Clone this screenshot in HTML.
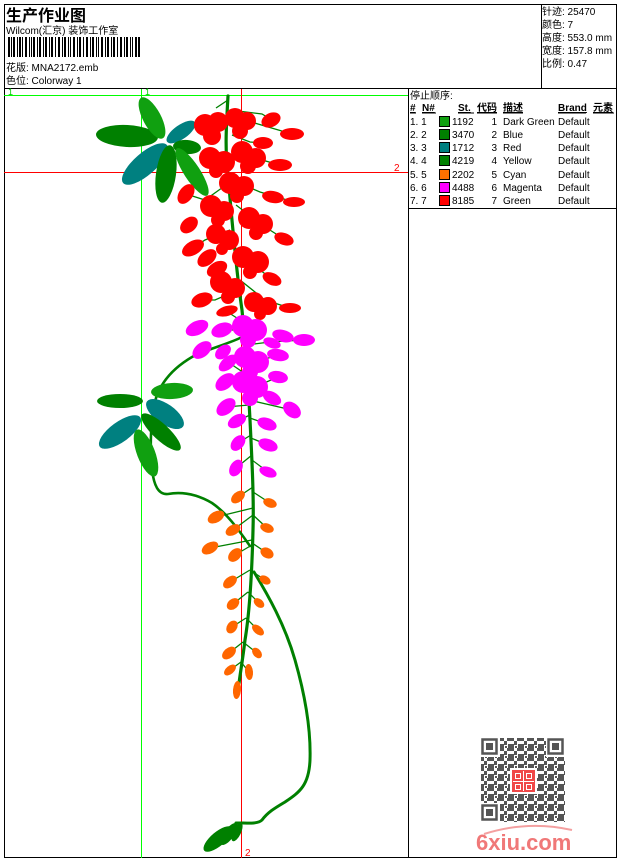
<!DOCTYPE html>
<html><head><meta charset="utf-8">
<style>
html,body{margin:0;padding:0;background:#fff;}
body{width:620px;height:860px;overflow:hidden;}
svg{display:block;}
text{font-family:"Liberation Sans","Noto Sans CJK SC",sans-serif;fill:#000;}
</style></head>
<body>
<svg width="620" height="860" viewBox="0 0 620 860" xmlns="http://www.w3.org/2000/svg">
<defs>
<pattern id="qr" x="481" y="738" width="10" height="10" patternUnits="userSpaceOnUse">
<rect x="0" y="0" width="3" height="3" fill="#555"/>
<rect x="3" y="3" width="3" height="4" fill="#555"/>
<rect x="6" y="0" width="4" height="3" fill="#555"/>
<rect x="0" y="6" width="3" height="4" fill="#555"/>
<rect x="7" y="6" width="3" height="4" fill="#555"/>
<rect x="4" y="8" width="2" height="2" fill="#555"/>
</pattern>
</defs>
<rect width="620" height="860" fill="#fff"/>

<!-- frame lines -->
<g stroke="#000" stroke-width="1" shape-rendering="crispEdges" fill="none">
<rect x="4.5" y="4.5" width="612" height="853"/>
<line x1="4" y1="88.5" x2="617" y2="88.5"/>
<line x1="541.5" y1="4" x2="541.5" y2="88"/>
<line x1="408.5" y1="88" x2="408.5" y2="858"/>
<line x1="408" y1="208.5" x2="617" y2="208.5"/>
</g>

<!-- header -->
<text x="6" y="21" font-size="16" font-weight="bold">生产作业图</text>
<text x="6" y="34" font-size="10">Wilcom(汇京) 装饰工作室</text>
<g fill="#000" shape-rendering="crispEdges">
<rect x="8" y="37" width="2" height="20"/><rect x="11" y="37" width="1" height="20"/><rect x="13" y="37" width="2" height="20"/>
<rect x="17" y="37" width="1" height="20"/><rect x="19" y="37" width="2" height="20"/><rect x="22" y="37" width="1" height="20"/>
<rect x="25" y="37" width="2" height="20"/><rect x="29" y="37" width="1" height="20"/><rect x="31" y="37" width="1" height="20"/>
<rect x="33" y="37" width="2" height="20"/><rect x="37" y="37" width="1" height="20"/><rect x="39" y="37" width="2" height="20"/>
<rect x="43" y="37" width="1" height="20"/><rect x="45" y="37" width="2" height="20"/><rect x="49" y="37" width="1" height="20"/>
<rect x="51" y="37" width="2" height="20"/><rect x="55" y="37" width="1" height="20"/><rect x="58" y="37" width="2" height="20"/>
<rect x="62" y="37" width="1" height="20"/><rect x="64" y="37" width="2" height="20"/><rect x="68" y="37" width="1" height="20"/>
<rect x="70" y="37" width="1" height="20"/><rect x="73" y="37" width="2" height="20"/><rect x="77" y="37" width="1" height="20"/>
<rect x="79" y="37" width="2" height="20"/><rect x="83" y="37" width="1" height="20"/><rect x="86" y="37" width="2" height="20"/>
<rect x="90" y="37" width="1" height="20"/><rect x="92" y="37" width="2" height="20"/><rect x="96" y="37" width="1" height="20"/>
<rect x="98" y="37" width="1" height="20"/><rect x="101" y="37" width="2" height="20"/><rect x="105" y="37" width="1" height="20"/>
<rect x="107" y="37" width="2" height="20"/><rect x="111" y="37" width="1" height="20"/><rect x="113" y="37" width="2" height="20"/>
<rect x="117" y="37" width="1" height="20"/><rect x="120" y="37" width="2" height="20"/><rect x="124" y="37" width="1" height="20"/>
<rect x="126" y="37" width="2" height="20"/><rect x="130" y="37" width="1" height="20"/><rect x="132" y="37" width="1" height="20"/>
<rect x="135" y="37" width="2" height="20"/><rect x="138" y="37" width="2" height="20"/>
</g>
<text x="6" y="71" font-size="10">花版: MNA2172.emb</text>
<text x="6" y="84" font-size="10">色位: Colorway 1</text>

<text x="542" y="15" font-size="10">针迹: 25470</text>
<text x="542" y="28" font-size="10">颜色: 7</text>
<text x="542" y="41" font-size="10">高度: 553.0 mm</text>
<text x="542" y="54" font-size="10">宽度: 157.8 mm</text>
<text x="542" y="67" font-size="10">比例: 0.47</text>

<!-- legend -->
<text x="410" y="99" font-size="10">停止顺序:</text>
<g font-size="10" font-weight="bold" text-decoration="underline">
<text x="410" y="111">#</text>
<text x="422" y="111">N#</text>
<text x="458" y="111">St.</text>
<text x="477" y="111">代码</text>
<text x="503" y="111">描述</text>
<text x="558" y="111">Brand</text>
<text x="593" y="111">元素</text>
</g>
<g stroke="#000" stroke-width="0.8" shape-rendering="crispEdges">
<line x1="410" y1="113" x2="416" y2="113"/><line x1="422" y1="113" x2="436" y2="113"/>
<line x1="458" y1="113" x2="474" y2="113"/><line x1="477" y1="113" x2="497" y2="113"/>
<line x1="503" y1="113" x2="523" y2="113"/><line x1="558" y1="113" x2="586" y2="113"/>
<line x1="593" y1="113" x2="614" y2="113"/>
</g>
<g font-size="10">
<text x="410" y="125">1. 1</text><rect x="439.5" y="116.5" width="10" height="10" fill="#10a010" stroke="#000"/><text x="452" y="125">1192</text><text x="497" y="125" text-anchor="end">1</text><text x="503" y="125">Dark Green</text><text x="558" y="125">Default</text>
<text x="410" y="138">2. 2</text><rect x="439.5" y="129.5" width="10" height="10" fill="#008000" stroke="#000"/><text x="452" y="138">3470</text><text x="497" y="138" text-anchor="end">2</text><text x="503" y="138">Blue</text><text x="558" y="138">Default</text>
<text x="410" y="151">3. 3</text><rect x="439.5" y="142.5" width="10" height="10" fill="#008080" stroke="#000"/><text x="452" y="151">1712</text><text x="497" y="151" text-anchor="end">3</text><text x="503" y="151">Red</text><text x="558" y="151">Default</text>
<text x="410" y="164">4. 4</text><rect x="439.5" y="155.5" width="10" height="10" fill="#008000" stroke="#000"/><text x="452" y="164">4219</text><text x="497" y="164" text-anchor="end">4</text><text x="503" y="164">Yellow</text><text x="558" y="164">Default</text>
<text x="410" y="178">5. 5</text><rect x="439.5" y="169.5" width="10" height="10" fill="#ff7000" stroke="#000"/><text x="452" y="178">2202</text><text x="497" y="178" text-anchor="end">5</text><text x="503" y="178">Cyan</text><text x="558" y="178">Default</text>
<text x="410" y="191">6. 6</text><rect x="439.5" y="182.5" width="10" height="10" fill="#ff00ff" stroke="#000"/><text x="452" y="191">4488</text><text x="497" y="191" text-anchor="end">6</text><text x="503" y="191">Magenta</text><text x="558" y="191">Default</text>
<text x="410" y="204">7. 7</text><rect x="439.5" y="195.5" width="10" height="10" fill="#ff0000" stroke="#000"/><text x="452" y="204">8185</text><text x="497" y="204" text-anchor="end">7</text><text x="503" y="204">Green</text><text x="558" y="204">Default</text>
</g>

<!-- guide lines -->
<g shape-rendering="crispEdges" stroke-width="1">
<line x1="4" y1="95.5" x2="408" y2="95.5" stroke="#00ff00"/>
<line x1="141.5" y1="89" x2="141.5" y2="858" stroke="#00ff00"/>
<line x1="4" y1="172.5" x2="408" y2="172.5" stroke="#ff0000"/>
<line x1="241.5" y1="89" x2="241.5" y2="858" stroke="#ff0000"/>
</g>
<text x="8" y="95" font-size="9" style="fill:#00cc00">1</text>
<text x="145" y="95" font-size="9" style="fill:#00cc00">1</text>
<text x="394" y="171" font-size="10" style="fill:#ff0000">2</text>
<text x="245" y="856" font-size="10" style="fill:#ff0000">2</text>

<!-- stems -->
<g fill="none" stroke="#008000" stroke-linecap="round">
<path d="M228,96 C226,130 225,150 228,175 C231,210 236,270 242,310 C245,340 248,380 250,420 C252,460 254,500 253,530 C252,570 250,610 245,640 C242,665 239,680 238,692" stroke-width="3.2"/>
<path d="M240,338 C225,345 205,350 192,357 C175,367 162,380 156,398 C150,420 150,450 152,470 C154,485 158,495 168,494 C185,491 200,496 212,503 C228,514 240,532 250,546" stroke-width="2.6"/>
<path d="M254,572 C268,595 285,625 295,660 C305,695 311,730 310,760 C309,785 300,792 285,802 C275,808 268,812 262,820 C258,824 250,823 236,823" stroke-width="3"/>
</g>
<g fill="none" stroke="#008000" stroke-width="1.3">
<path d="M228,100 L216,108"/>
<path d="M230,110 L262,114 L272,120"/>
<path d="M238,118 L258,124 L292,134"/>
<path d="M232,135 L250,142 L263,143"/>
<path d="M240,150 L262,160 L280,165"/>
<path d="M232,180 L260,192 L294,202"/>
<path d="M236,205 L262,225 L284,239"/>
<path d="M238,250 L260,270 L272,279"/>
<path d="M240,280 L265,300 L290,308"/>
<path d="M226,185 L205,200 L186,194"/>
<path d="M230,230 L205,240 L193,248"/>
<path d="M238,290 L215,300 L202,300"/>
<path d="M240,320 L226,311"/>
<path d="M244,330 L222,330"/>
<path d="M246,345 L270,342 L303,340"/>
<path d="M246,365 L278,355"/>
<path d="M247,375 L228,362"/>
<path d="M247,385 L225,382"/>
<path d="M248,390 L278,377"/>
<path d="M249,400 L292,410"/>
<path d="M249,405 L226,407"/>
<path d="M250,415 L237,421"/>
<path d="M250,418 L267,424"/>
<path d="M251,435 L238,443"/>
<path d="M251,438 L268,445"/>
<path d="M252,455 L236,468"/>
<path d="M252,460 L268,472"/>
<path d="M253,487 L238,497"/>
<path d="M253,492 L270,503"/>
<path d="M253,508 L216,517"/>
<path d="M253,515 L233,530"/>
<path d="M253,515 L267,528"/>
<path d="M252,540 L210,548"/>
<path d="M252,545 L235,555"/>
<path d="M252,543 L267,553"/>
<path d="M250,570 L230,582"/>
<path d="M250,570 L265,580"/>
<path d="M248,592 L233,604"/>
<path d="M248,592 L259,603"/>
<path d="M246,618 L232,627"/>
<path d="M246,618 L258,630"/>
<path d="M243,642 L229,653"/>
<path d="M243,642 L257,653"/>
<path d="M241,662 L230,670"/>
<path d="M241,662 L249,672"/>
</g>

<!-- upper leaves -->
<g>
<ellipse cx="127" cy="136" rx="31" ry="11" transform="rotate(3 127 136)" fill="#008000"/>
<ellipse cx="152" cy="118" rx="23" ry="9" transform="rotate(62 152 118)" fill="#10a010"/>
<ellipse cx="181" cy="132" rx="17" ry="7" transform="rotate(-35 181 132)" fill="#008080"/>
<ellipse cx="187" cy="147" rx="14" ry="7" transform="rotate(5 187 147)" fill="#008000"/>
<ellipse cx="145" cy="164" rx="29" ry="11" transform="rotate(139 145 164)" fill="#008080"/>
<ellipse cx="166" cy="174" rx="29" ry="10" transform="rotate(98 166 174)" fill="#008000"/>
<ellipse cx="192" cy="172" rx="28" ry="8" transform="rotate(57 192 172)" fill="#10a010"/>
</g>
<!-- middle leaves -->
<g>
<ellipse cx="172" cy="391" rx="21" ry="8" transform="rotate(-3 172 391)" fill="#10a010"/>
<ellipse cx="120" cy="401" rx="23" ry="7" fill="#008000"/>
<ellipse cx="165" cy="414" rx="22" ry="10" transform="rotate(35 165 414)" fill="#008080"/>
<ellipse cx="120" cy="432" rx="25" ry="10" transform="rotate(-36 120 432)" fill="#008080"/>
<ellipse cx="161" cy="432" rx="26" ry="8" transform="rotate(43 161 432)" fill="#008000"/>
<ellipse cx="146" cy="453" rx="25" ry="9" transform="rotate(69 146 453)" fill="#10a010"/>
</g>
<!-- bottom leaves -->
<g fill="#008000">
<ellipse cx="218" cy="839" rx="18" ry="7" transform="rotate(-40 218 839)"/>
<ellipse cx="229" cy="834" rx="13" ry="5" transform="rotate(-55 229 834)"/>
<ellipse cx="237" cy="832" rx="10" ry="4" transform="rotate(-65 237 832)"/>
</g>

<!-- red flowers -->
<g fill="#ff0000">
<circle cx="205" cy="125" r="11"/><circle cx="218" cy="122" r="10"/><circle cx="212" cy="136" r="9"/>
<circle cx="235" cy="118" r="10"/><circle cx="247" cy="121" r="9"/><circle cx="240" cy="131" r="8"/>
<circle cx="210" cy="158" r="11"/><circle cx="224" cy="162" r="11"/><circle cx="216" cy="171" r="7"/>
<circle cx="242" cy="152" r="11"/><circle cx="256" cy="158" r="10"/><circle cx="248" cy="166" r="8"/>
<circle cx="230" cy="183" r="11"/><circle cx="244" cy="186" r="10"/><circle cx="237" cy="196" r="7"/>
<circle cx="211" cy="206" r="11"/><circle cx="224" cy="211" r="10"/><circle cx="218" cy="220" r="7"/>
<circle cx="249" cy="218" r="11"/><circle cx="263" cy="224" r="10"/><circle cx="256" cy="233" r="7"/>
<circle cx="216" cy="234" r="10"/><circle cx="229" cy="240" r="10"/><circle cx="222" cy="249" r="6"/>
<circle cx="243" cy="257" r="11"/><circle cx="258" cy="262" r="11"/><circle cx="250" cy="272" r="7"/>
<circle cx="221" cy="282" r="11"/><circle cx="235" cy="288" r="10"/><circle cx="228" cy="297" r="7"/>
<circle cx="254" cy="302" r="10"/><circle cx="268" cy="306" r="9"/><circle cx="260" cy="314" r="6"/>
<ellipse cx="271" cy="120" rx="10" ry="7" transform="rotate(-25 271 120)"/>
<ellipse cx="292" cy="134" rx="12" ry="6"/>
<ellipse cx="263" cy="143" rx="10" ry="6"/>
<ellipse cx="280" cy="165" rx="12" ry="6"/>
<ellipse cx="186" cy="194" rx="11" ry="7" transform="rotate(-55 186 194)"/>
<ellipse cx="273" cy="197" rx="11" ry="6" transform="rotate(10 273 197)"/>
<ellipse cx="294" cy="202" rx="11" ry="5"/>
<ellipse cx="189" cy="225" rx="10" ry="7" transform="rotate(-40 189 225)"/>
<ellipse cx="284" cy="239" rx="10" ry="6" transform="rotate(20 284 239)"/>
<ellipse cx="193" cy="248" rx="12" ry="7" transform="rotate(-30 193 248)"/>
<ellipse cx="207" cy="258" rx="11" ry="7" transform="rotate(-40 207 258)"/>
<ellipse cx="217" cy="269" rx="11" ry="7" transform="rotate(-30 217 269)"/>
<ellipse cx="272" cy="279" rx="10" ry="6" transform="rotate(25 272 279)"/>
<ellipse cx="202" cy="300" rx="11" ry="7" transform="rotate(-20 202 300)"/>
<ellipse cx="227" cy="311" rx="11" ry="5" transform="rotate(-15 227 311)"/>
<ellipse cx="290" cy="308" rx="11" ry="5"/>
</g>

<!-- magenta flowers -->
<g fill="#ff00ff">
<ellipse cx="197" cy="328" rx="12" ry="7" transform="rotate(-25 197 328)"/>
<ellipse cx="222" cy="330" rx="11" ry="7" transform="rotate(-20 222 330)"/>
<circle cx="243" cy="326" r="11"/><circle cx="256" cy="330" r="11"/><circle cx="248" cy="340" r="8"/>
<ellipse cx="283" cy="336" rx="11" ry="6" transform="rotate(15 283 336)"/>
<ellipse cx="304" cy="340" rx="11" ry="6"/>
<ellipse cx="202" cy="350" rx="11" ry="7" transform="rotate(-40 202 350)"/>
<ellipse cx="223" cy="352" rx="9" ry="6" transform="rotate(-40 223 352)"/>
<ellipse cx="272" cy="343" rx="9" ry="5" transform="rotate(20 272 343)"/>
<circle cx="245" cy="357" r="11"/><circle cx="258" cy="362" r="11"/><circle cx="250" cy="372" r="8"/>
<ellipse cx="278" cy="355" rx="11" ry="6" transform="rotate(10 278 355)"/>
<ellipse cx="228" cy="363" rx="11" ry="6" transform="rotate(-40 228 363)"/>
<ellipse cx="225" cy="382" rx="11" ry="7" transform="rotate(-40 225 382)"/>
<ellipse cx="278" cy="377" rx="10" ry="6" transform="rotate(10 278 377)"/>
<circle cx="243" cy="382" r="11"/><circle cx="257" cy="387" r="11"/><circle cx="250" cy="398" r="8"/>
<ellipse cx="272" cy="398" rx="10" ry="6" transform="rotate(30 272 398)"/>
<ellipse cx="292" cy="410" rx="10" ry="7" transform="rotate(40 292 410)"/>
<ellipse cx="226" cy="407" rx="11" ry="7" transform="rotate(-40 226 407)"/>
<ellipse cx="237" cy="421" rx="10" ry="6" transform="rotate(-30 237 421)"/>
<ellipse cx="267" cy="424" rx="10" ry="6" transform="rotate(20 267 424)"/>
<ellipse cx="238" cy="443" rx="9" ry="6" transform="rotate(-50 238 443)"/>
<ellipse cx="268" cy="445" rx="10" ry="6" transform="rotate(20 268 445)"/>
<ellipse cx="236" cy="468" rx="9" ry="6" transform="rotate(-60 236 468)"/>
<ellipse cx="268" cy="472" rx="9" ry="5" transform="rotate(20 268 472)"/>
</g>

<!-- orange flowers -->
<g fill="#ff6600">
<ellipse cx="238" cy="497" rx="8" ry="5" transform="rotate(-40 238 497)"/>
<ellipse cx="270" cy="503" rx="7" ry="4.5" transform="rotate(20 270 503)"/>
<ellipse cx="216" cy="517" rx="9" ry="5.5" transform="rotate(-30 216 517)"/>
<ellipse cx="233" cy="530" rx="8" ry="5" transform="rotate(-30 233 530)"/>
<ellipse cx="267" cy="528" rx="7" ry="4.5" transform="rotate(20 267 528)"/>
<ellipse cx="210" cy="548" rx="9" ry="5.5" transform="rotate(-30 210 548)"/>
<ellipse cx="235" cy="555" rx="8" ry="5.5" transform="rotate(-45 235 555)"/>
<ellipse cx="267" cy="553" rx="7" ry="5" transform="rotate(30 267 553)"/>
<ellipse cx="230" cy="582" rx="8" ry="5" transform="rotate(-40 230 582)"/>
<ellipse cx="265" cy="580" rx="6" ry="4" transform="rotate(30 265 580)"/>
<ellipse cx="233" cy="604" rx="7" ry="5" transform="rotate(-40 233 604)"/>
<ellipse cx="259" cy="603" rx="6" ry="4" transform="rotate(40 259 603)"/>
<ellipse cx="232" cy="627" rx="7" ry="5" transform="rotate(-55 232 627)"/>
<ellipse cx="258" cy="630" rx="7" ry="4" transform="rotate(40 258 630)"/>
<ellipse cx="229" cy="653" rx="8" ry="5" transform="rotate(-40 229 653)"/>
<ellipse cx="257" cy="653" rx="6" ry="4" transform="rotate(50 257 653)"/>
<ellipse cx="230" cy="670" rx="7" ry="4" transform="rotate(-40 230 670)"/>
<ellipse cx="249" cy="672" rx="8" ry="4" transform="rotate(85 249 672)"/>
<ellipse cx="237" cy="690" rx="9" ry="4" transform="rotate(95 237 690)"/>
</g>

<!-- QR watermark -->
<g>
<rect x="481" y="738" width="84" height="84" fill="url(#qr)"/>
<g fill="#fff">
<rect x="480" y="737" width="20" height="20"/><rect x="546" y="737" width="20" height="20"/><rect x="480" y="803" width="20" height="20"/>
</g>
<g fill="none" stroke="#555" stroke-width="2.5">
<rect x="482.5" y="739.5" width="14" height="14"/><rect x="548.5" y="739.5" width="14" height="14"/><rect x="482.5" y="805.5" width="14" height="14"/>
</g>
<g fill="#555">
<rect x="486" y="743" width="7" height="7"/><rect x="552" y="743" width="7" height="7"/><rect x="486" y="809" width="7" height="7"/>
</g>
<rect x="510" y="768" width="27" height="26" fill="#fff"/>
<rect x="512" y="770" width="23" height="22" fill="#f04848"/>
<g stroke="#fff" stroke-width="1" fill="none">
<line x1="523.5" y1="771" x2="523.5" y2="791"/>
<line x1="513" y1="781.5" x2="534" y2="781.5"/>
<rect x="515.5" y="773.5" width="5" height="5"/><rect x="526.5" y="773.5" width="5" height="5"/>
<rect x="515.5" y="784.5" width="5" height="5"/><rect x="526.5" y="784.5" width="5" height="5"/>
</g>
<path d="M484,834 Q528,820 572,830" fill="none" stroke="#f4a0a0" stroke-width="2"/>
<text x="476" y="850" font-size="22" font-weight="bold" style="fill:#f07878">6xiu.com</text>
</g>
</svg>
</body></html>
